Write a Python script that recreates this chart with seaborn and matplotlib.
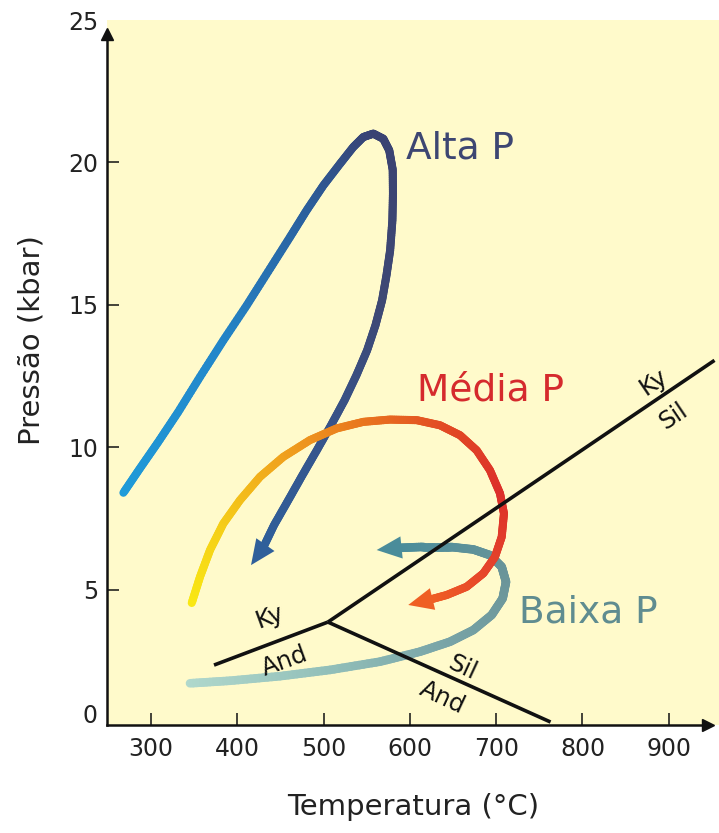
import numpy as np
import matplotlib
matplotlib.use("Agg")
import matplotlib.pyplot as plt
from matplotlib.collections import LineCollection
from matplotlib.colors import LinearSegmentedColormap
import seaborn as sns

# ---- P-T paths (temperature in °C, pressure in kbar) ----
alta_T = [268, 287, 308.5, 331.6, 356.8, 383.8, 410.9, 437.9, 461.1, 480.4,
          499.7, 519.0, 534.4, 546.0, 557.6, 569.2, 576.1, 580.1, 580.4,
          579.7, 577.1, 572.9, 567.8, 560.1, 550.4, 538.1, 524.3, 508.6,
          492.1, 475.5, 459.1, 442.5, 429.8]
alta_P = [8.40, 9.25, 10.19, 11.24, 12.47, 13.75, 14.98, 16.27, 17.38, 18.32,
          19.19, 19.95, 20.54, 20.89, 21.01, 20.83, 20.42, 19.74, 18.91,
          17.96, 16.91, 16.04, 15.16, 14.28, 13.40, 12.53, 11.65, 10.77,
          9.89, 9.02, 8.14, 7.26, 6.46]
alta_tip = (415.9, 5.86)

media_T = [347.2, 356.8, 368.4, 383.8, 403.1, 426.3, 453.3, 484.2, 515.2,
           546.0, 576.9, 607.9, 634.9, 658.1, 677.4, 692.8, 704.4, 709.0,
           706.4, 698.6, 685.1, 665.8, 642.6, 621.0]
media_P = [4.53, 5.45, 6.39, 7.32, 8.14, 8.96, 9.66, 10.25, 10.66, 10.89,
           10.97, 10.95, 10.77, 10.42, 9.89, 9.19, 8.38, 7.67, 6.85, 6.15,
           5.57, 5.10, 4.81, 4.63]
media_tip = (598.1, 4.46)

baixa_T = [345.2, 391.5, 449.5, 507.4, 565.4, 611.7, 646.5, 673.5, 694.8,
           707.5, 711.4, 706.4, 692.8, 673.5, 646.5, 615.5, 583.9]
baixa_P = [1.71, 1.80, 1.96, 2.18, 2.47, 2.82, 3.17, 3.58, 4.11, 4.69, 5.27,
           5.80, 6.21, 6.41, 6.50, 6.50, 6.46]
baixa_tip = (561.5, 6.39)

path_names = ["Alta P", "Média P", "Baixa P"]
path_label_pos = [(596, 20.49), (608.5, 12.0), (726, 4.2)]

# ---- Al2SiO5 phase boundaries ----
ky_and_T, ky_and_P = [373, 505], [2.35, 3.86]
ky_sil_T, ky_sil_P = [505, 953], [3.86, 13.05]
sil_and_T, sil_and_P = [505, 763], [3.86, 0.35]

phase_labels = ["Ky", "And", "Sil", "And", "Ky", "Sil"]
phase_label_T = [438, 455, 661, 638, 882, 905]
phase_label_P = [4.04, 2.50, 2.25, 1.20, 12.28, 11.10]
phase_label_rot = [20, 20, -25, -25, 34, 34]

x_ticks = [300, 400, 500, 600, 700, 800, 900]
y_ticks = [5, 10, 15, 20, 25]

# ---- style ----
sns.set_style("ticks")
plt.rcParams["font.family"] = ["DejaVu Sans"]
ink = "#222222"

W, H = 719, 833
fig = plt.figure(figsize=(W / 100, H / 100), dpi=100)
ax_left, ax_right, ax_top, ax_bottom = 107, 719, 20, 725
ax = fig.add_axes([ax_left / W, (H - ax_bottom) / H,
                   (ax_right - ax_left) / W, (ax_bottom - ax_top) / H])
ax.set_facecolor("#fffacb")
ax.set_xlim(249.0, 958.2)
ax.set_ylim(0.246, 24.98)


def gradient_path(T, P, stops, lw, z, sub=12):
    pts = np.column_stack([T, P]).astype(float)
    # split each straight segment into pieces so colour changes smoothly
    fine = [pts[0]]
    for a, b in zip(pts[:-1], pts[1:]):
        for s in np.linspace(0, 1, sub + 1)[1:]:
            fine.append(a + (b - a) * s)
    fine = np.array(fine)
    disp = ax.transData.transform(fine)
    seglen = np.hypot(*np.diff(disp, axis=0).T)
    cum = np.concatenate([[0], np.cumsum(seglen)])
    frac = (cum[:-1] + cum[1:]) / 2 / cum[-1]
    cmap = LinearSegmentedColormap.from_list("path", stops)
    segs = np.stack([fine[:-1], fine[1:]], axis=1)
    lc = LineCollection(segs, colors=cmap(frac), linewidths=lw,
                        capstyle="round", joinstyle="round", zorder=z)
    ax.add_collection(lc)
    return cmap(1.0)


def head(start, tip, color, z):
    ax.annotate("", xy=tip, xytext=start,
                arrowprops=dict(arrowstyle="-|>,head_length=0.45,head_width=0.2",
                                mutation_scale=40, color=color, lw=0,
                                shrinkA=0, shrinkB=0),
                zorder=z)


alta_stops = [(0, "#1f9bd9"), (0.2, "#2386c9"), (0.38, "#2b5f9d"),
              (0.5, "#3a4272"), (0.7, "#3e4874"), (0.87, "#36558c"),
              (1, "#2f5f9a")]
media_stops = [(0, "#f9e814"), (0.14, "#f5cf18"), (0.3, "#f0a31e"),
               (0.45, "#e9781e"), (0.6, "#e24a24"), (0.75, "#dc2f2a"),
               (0.9, "#e6452a"), (1, "#ef5f24")]
baixa_stops = [(0, "#b0d8cc"), (0.3, "#92bfb9"), (0.55, "#78a4a7"),
               (0.75, "#6b9599"), (1, "#4a8c9a")]

c = gradient_path(alta_T, alta_P, alta_stops, 5.8, 2)
head((alta_T[-1], alta_P[-1]), alta_tip, c, 2.1)
c = gradient_path(baixa_T, baixa_P, baixa_stops, 6.2, 3)
head((baixa_T[-1], baixa_P[-1]), baixa_tip, c, 3.1)
c = gradient_path(media_T, media_P, media_stops, 5.8, 4)
head((media_T[-1], media_P[-1]), media_tip, c, 4.1)

# phase boundaries
for T, P in [(ky_and_T, ky_and_P), (ky_sil_T, ky_sil_P), (sil_and_T, sil_and_P)]:
    sns.lineplot(x=T, y=P, ax=ax, color="#111111", lw=2.6, zorder=5,
                 solid_capstyle="butt")

for s, t, p, r in zip(phase_labels, phase_label_T, phase_label_P, phase_label_rot):
    ax.text(t, p, s, rotation=r, rotation_mode="anchor", ha="center",
            va="center", fontsize=17.5, color="#111111", zorder=6)

path_colors = ["#3d4672", "#d52a2d", "#5f8c90"]
for name, (t, p), col in zip(path_names, path_label_pos, path_colors):
    ax.text(t, p, name, ha="left", va="center", fontsize=27, color=col,
            zorder=6)

# axes: left and bottom with arrowheads, inward ticks
for side in ["top", "right"]:
    ax.spines[side].set_visible(False)
for side in ["left", "bottom"]:
    ax.spines[side].set_linewidth(1.8)
    ax.spines[side].set_color("#111111")
ax.spines["left"].set_bounds(0.246, 24.6)
ax.spines["bottom"].set_bounds(249.0, 946)
ax.plot([249.0], [24.52], marker="^", ms=9, color="#111111", clip_on=False,
        zorder=7)
ax.plot([945.5], [0.246], marker=">", ms=9, color="#111111", clip_on=False,
        zorder=7)

ax.set_xticks(x_ticks)
ax.set_yticks(y_ticks)
ax.set_xticklabels([str(v) for v in x_ticks])
ax.set_yticklabels([str(v) for v in y_ticks])
ax.tick_params(axis="both", direction="in", length=8.5, width=1.1,
               colors="#111111", labelcolor=ink, labelsize=17)
ax.tick_params(axis="x", pad=9)
ax.tick_params(axis="y", pad=6)
ax.yaxis.get_major_ticks()[-1].tick1line.set_visible(False)
ax.text(-0.015, 0.013, "0", transform=ax.transAxes, ha="right", va="center",
        fontsize=17, color=ink)

ax.set_xlabel("Temperatura (°C)", fontsize=21, color=ink)
ax.set_ylabel("Pressão (kbar)", fontsize=21, color=ink)
ax.xaxis.set_label_coords(0.5, -0.096)
ax.yaxis.set_label_coords(-0.1, 0.546)

fig.savefig("out.png", dpi=100, facecolor="white")
